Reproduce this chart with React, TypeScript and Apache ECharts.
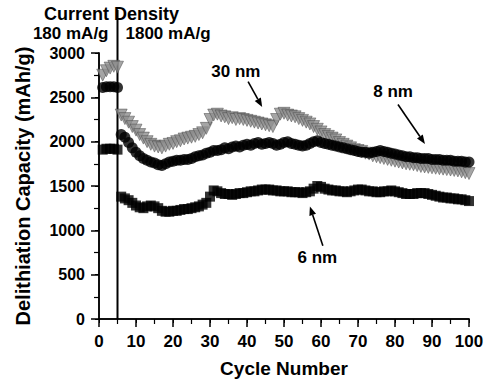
import React, { useEffect, useRef } from "react";
import * as echarts from "echarts";

const cycles: number[] = Array.from({ length: 100 }, (_, i) => i + 1);

const cap30nm: number[] = [
  2750, 2800, 2830, 2850, 2840,
  2300, 2260, 2220, 2170, 2130, 2080, 2040, 2000, 1970, 1950,
  1940, 1930, 1950, 1970, 1980, 2000, 2010, 2030, 2040, 2050,
  2060, 2080, 2100, 2150, 2250, 2300, 2310, 2290, 2280, 2260,
  2270, 2250, 2260, 2250, 2240, 2230, 2220, 2210, 2200, 2190,
  2180, 2170, 2250, 2310, 2320, 2300, 2290, 2280, 2260, 2240,
  2220, 2200, 2170, 2140, 2110, 2080, 2060, 2040, 2020, 1990,
  1970, 1950, 1930, 1910, 1900, 1890, 1870, 1860, 1840, 1830,
  1820, 1810, 1800, 1790, 1780, 1770, 1760, 1750, 1745, 1740,
  1730, 1720, 1715, 1710, 1705, 1700, 1695, 1690, 1685, 1680,
  1675, 1670, 1660, 1650, 1640,
];

const cap8nm: number[] = [
  2610, 2620, 2620, 2620, 2610,
  2080, 2050, 1990, 1930, 1880, 1840, 1810, 1790, 1770, 1760,
  1740, 1730, 1750, 1770, 1780, 1790, 1790, 1800, 1800, 1810,
  1830, 1840, 1850, 1870, 1880, 1900, 1900, 1910, 1930, 1920,
  1940, 1950, 1940, 1960, 1970, 1960, 1980, 1990, 1970, 1980,
  1990, 1980, 1960, 1970, 1990, 2000, 1980, 1970, 1960, 1950,
  1960, 1980, 2000, 2010, 1990, 1980, 1970, 1960, 1950, 1940,
  1930, 1920, 1910, 1900, 1890, 1880, 1880, 1870, 1880, 1890,
  1900, 1890, 1880, 1870, 1860, 1850, 1840, 1830, 1830, 1820,
  1820, 1810, 1810, 1810, 1800, 1800, 1800, 1790, 1790, 1790,
  1780, 1780, 1780, 1770, 1770,
];

const cap6nm: number[] = [
  1910, 1920, 1920, 1920, 1910,
  1380, 1360, 1340, 1310, 1280, 1260, 1250, 1270, 1280, 1270,
  1250, 1220, 1210, 1210, 1220, 1220, 1230, 1240, 1240, 1250,
  1260, 1270, 1290, 1310, 1380, 1450, 1440, 1420, 1410, 1410,
  1400, 1410, 1420, 1420, 1430, 1440, 1440, 1450, 1460, 1460,
  1460, 1450, 1450, 1440, 1440, 1440, 1430, 1430, 1430, 1420,
  1430, 1440, 1470, 1500, 1490, 1470, 1460, 1450, 1450, 1440,
  1440, 1430, 1440, 1450, 1460, 1460, 1450, 1440, 1440, 1430,
  1430, 1440, 1440, 1450, 1440, 1430, 1420, 1410, 1410, 1410,
  1420, 1420, 1420, 1410, 1400, 1390, 1380, 1370, 1370, 1360,
  1360, 1350, 1350, 1340, 1330,
];

const rateChangeCycle = 5;
const xTicks = { min: 0, max: 100, interval: 10 };
const yTicks = { min: 0, max: 3000, interval: 500 };

// annotation labels and arrows, in data coordinates
const labels = [
  { text: "30 nm", at: [37.0, 2790], from: [40.3, 2676], to: [44.1, 2390] },
  { text: "8 nm", at: [79.5, 2565], from: [80.8, 2420], to: [88.1, 1975] },
  { text: "6 nm", at: [59.0, 690], from: [60.5, 825], to: [57.0, 1270] },
];

const FONT = '"Liberation Sans", Arial, sans-serif';

export default function App() {
  const ref = useRef<HTMLDivElement>(null);
  useEffect(() => {
    if (!ref.current) return;
    const chart = echarts.init(ref.current, undefined, { renderer: "svg" });
    const pair = (arr: number[]) => cycles.map((c, i) => [c, arr[i]]);
    const axisLine = { show: true, lineStyle: { color: "#000", width: 1.5 } };
    chart.setOption({
      animation: false,
      backgroundColor: "#fff",
      grid: { left: 99, right: 26, top: 53, bottom: 61 },
      xAxis: [
        {
          type: "value",
          min: xTicks.min,
          max: xTicks.max,
          interval: xTicks.interval,
          name: "Cycle Number",
          nameLocation: "middle",
          nameGap: 40,
          nameTextStyle: { fontFamily: FONT, fontWeight: "bold", fontSize: 19, color: "#000" },
          axisLine,
          axisTick: { show: true, inside: false, length: 8, lineStyle: { color: "#000", width: 1.5 } },
          minorTick: { show: true, splitNumber: 2, length: 5, lineStyle: { color: "#000", width: 1.2 } },
          axisLabel: {
            fontFamily: FONT,
            fontWeight: "bold",
            fontSize: 17,
            color: "#000",
            margin: 14,
            formatter: (v: number) => String(v),
          },
          splitLine: { show: false },
        },
        {
          type: "value",
          position: "top",
          min: xTicks.min,
          max: xTicks.max,
          interval: xTicks.interval,
          axisLine,
          axisTick: { show: true, inside: true, length: 4, lineStyle: { color: "#000" } },
          axisLabel: { show: false },
          splitLine: { show: false },
        },
      ],
      yAxis: [
        {
          type: "value",
          min: yTicks.min,
          max: yTicks.max,
          interval: yTicks.interval,
          name: "Delithiation Capacity (mAh/g)",
          nameLocation: "middle",
          nameGap: 66,
          nameTextStyle: { fontFamily: FONT, fontWeight: "bold", fontSize: 20, color: "#000" },
          axisLine,
          axisTick: { show: true, inside: false, length: 8, lineStyle: { color: "#000", width: 1.5 } },
          minorTick: { show: true, splitNumber: 2, length: 5, lineStyle: { color: "#000", width: 1.2 } },
          axisLabel: {
            fontFamily: FONT,
            fontWeight: "bold",
            fontSize: 16,
            color: "#000",
            margin: 14,
            formatter: (v: number) => String(v),
          },
          splitLine: { show: false },
        },
        {
          type: "value",
          position: "right",
          min: yTicks.min,
          max: yTicks.max,
          interval: yTicks.interval,
          axisLine,
          axisTick: { show: true, inside: true, length: 4, lineStyle: { color: "#000" } },
          axisLabel: { show: false },
          splitLine: { show: false },
        },
      ],
      series: [
        {
          name: "30 nm",
          type: "scatter",
          data: pair(cap30nm),
          symbol: "triangle",
          symbolRotate: 180,
          symbolSize: 12,
          itemStyle: { color: "#8e8e8e", borderColor: "#444", borderWidth: 0.6 },
        },
        {
          name: "8 nm",
          type: "scatter",
          data: pair(cap8nm),
          symbol: "circle",
          symbolSize: 11,
          itemStyle: { color: "#000" },
        },
        {
          name: "6 nm",
          type: "scatter",
          data: pair(cap6nm),
          symbol: "rect",
          symbolSize: 10,
          itemStyle: { color: "#000" },
        },
      ],
    });

    const px = (p: number[]) => chart.convertToPixel({ gridIndex: 0 }, p) as number[];
    const graphics: any[] = [];
    const lineTop = px([rateChangeCycle, yTicks.max]);
    const lineBot = px([rateChangeCycle, yTicks.min]);
    graphics.push({
      type: "line",
      shape: { x1: lineTop[0], y1: 10, x2: lineBot[0], y2: lineBot[1] },
      style: { stroke: "#000", lineWidth: 2 },
    });
    const txt = (text: string, x: number, y: number, align: string, size = 17) => ({
      type: "text",
      x,
      y,
      style: {
        text,
        fill: "#000",
        fontFamily: FONT,
        fontWeight: "bold",
        fontSize: size,
        align,
        verticalAlign: "middle",
      },
    });
    graphics.push(txt("Current Density", lineTop[0] - 6, 14, "center", 18));
    graphics.push(txt("180 mA/g", lineTop[0] - 9, 33, "right", 17));
    graphics.push(txt("1800 mA/g", lineTop[0] + 8, 33, "left", 17));

    labels.forEach((l) => {
      const a = px(l.at);
      const s = px(l.from);
      const e = px(l.to);
      graphics.push(txt(l.text, a[0], a[1], "center", 17));
      const dx = e[0] - s[0];
      const dy = e[1] - s[1];
      const len = Math.hypot(dx, dy);
      const ux = dx / len;
      const uy = dy / len;
      const L = 9;
      const W = 3.5;
      const bx = e[0] - ux * L;
      const by = e[1] - uy * L;
      graphics.push({
        type: "line",
        shape: { x1: s[0], y1: s[1], x2: bx, y2: by },
        style: { stroke: "#000", lineWidth: 1.6 },
      });
      graphics.push({
        type: "polygon",
        shape: {
          points: [
            [e[0], e[1]],
            [bx - uy * W, by + ux * W],
            [bx + uy * W, by - ux * W],
          ],
        },
        style: { fill: "#000" },
      });
    });
    chart.setOption({ graphic: graphics });

    return () => chart.dispose();
  }, []);
  return <div ref={ref} style={{ width: 495, height: 383, position: "absolute", left: 0, top: 0 }} />;
}
